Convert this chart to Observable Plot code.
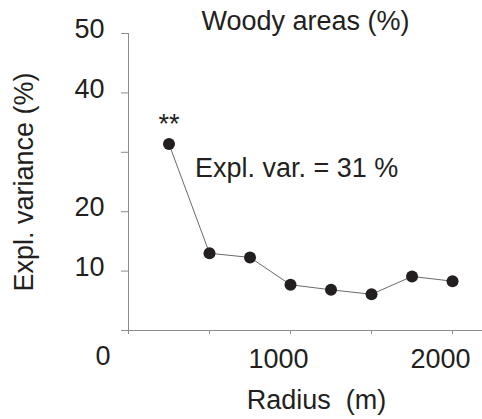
<!DOCTYPE html>
<html>
<head>
<meta charset="utf-8">
<script src="https://cdn.jsdelivr.net/npm/d3@7"></script>
<script src="https://cdn.jsdelivr.net/npm/@observablehq/plot@0.6"></script>
<style>
  html, body { margin: 0; padding: 0; background: #fff; }
</style>
</head>
<body>
<div id="chart"></div>
<script>
// Data
const radius = [250, 500, 750, 1000, 1250, 1500, 1750, 2000];
const explVar = [31.4, 13.0, 12.3, 7.7, 6.85, 6.1, 9.1, 8.3];
const yTicks = [0, 10, 20, 30, 40, 50];
const yLabels = [10, 20, 40, 50];
const xTicks = [0, 500, 1000, 1500, 2000];
const xLabels = [1000, 2000];
const title = ["Woody areas (%)"];
const yTitle = ["Expl. variance (%)"];
const xTitle = ["Radius\u00a0 (m)"];
const signif = ["**"];
const annot = ["Expl. var. = 31 %"];

const idx = radius.map((_, i) => i);
const ink = "#231f20";
const axisGray = "#8c8c8c";
const blank = () => "";
const fs = 27;

const chart = Plot.plot({
  width: 482,
  height: 419,
  marginLeft: 128,
  marginRight: 0,
  marginTop: 33,
  marginBottom: 89,
  x: { domain: [0, 2185] },
  y: { domain: [0, 50] },
  style: { fontFamily: "'Liberation Sans', Arial, sans-serif", fontSize: fs + "px", color: ink, background: "#fff" },
  marks: [
    Plot.ruleX([0], { y1: 0, y2: 50, stroke: axisGray, strokeWidth: 1 }),
    Plot.ruleY([0], { stroke: axisGray, strokeWidth: 1 }),
    Plot.axisY(yTicks, { tickSize: 7, tickFormat: blank, stroke: axisGray, strokeWidth: 1, label: null }),
    Plot.axisY(yLabels, { tickSize: 0, tickPadding: 24, dy: -4, fontSize: fs, fill: ink, label: null }),
    Plot.axisY([0], { tickSize: 0, tickPadding: 18, dy: 26, fontSize: fs, fill: ink, label: null }),
    Plot.axisX(xTicks, { tickSize: 4, tickFormat: blank, stroke: axisGray, strokeWidth: 1, label: null }),
    Plot.axisX(xLabels, { tickSize: 0, tickPadding: 18, dx: -12, tickFormat: d => String(d), fontSize: fs, fill: ink, label: null }),
    Plot.line(idx, { x: i => radius[i], y: i => explVar[i], stroke: "#6a6a6a", strokeWidth: 1 }),
    Plot.dot(idx, { x: i => radius[i], y: i => explVar[i], r: 6, fill: ink, stroke: "none" }),
    Plot.text(signif, { x: () => radius[0], y: () => explVar[0], text: d => d, dy: -20, lineAnchor: "middle", fontSize: fs, fill: ink }),
    Plot.text(annot, { x: () => radius[0], y: () => explVar[0], text: d => d, dx: 26, dy: 24, textAnchor: "start", lineAnchor: "middle", fontSize: fs, fill: ink }),
    Plot.text(title, { frameAnchor: "top", text: d => d, dy: -12, textAnchor: "middle", lineAnchor: "middle", fontSize: fs, fill: ink }),
    Plot.text(yTitle, { frameAnchor: "left", text: d => d, rotate: -90, dx: -104, textAnchor: "middle", lineAnchor: "middle", fontSize: fs, fill: ink }),
    Plot.text(xTitle, { frameAnchor: "bottom", text: d => d, dx: 11, dy: 70, textAnchor: "middle", lineAnchor: "middle", fontSize: fs, fill: ink })
  ]
});
document.getElementById("chart").appendChild(chart);
</script>
</body>
</html>
